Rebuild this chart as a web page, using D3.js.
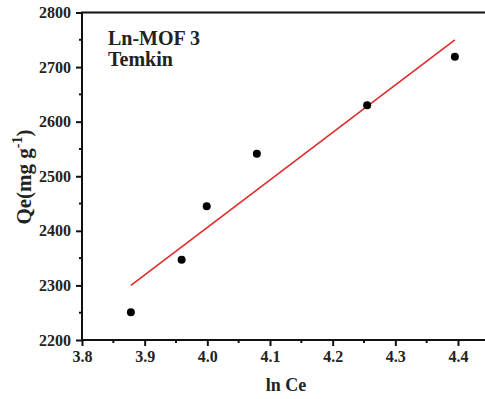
<!DOCTYPE html>
<html><head><meta charset="utf-8">
<script src="https://cdn.jsdelivr.net/npm/d3@7"></script>
<style>body{margin:0;background:#fff}svg{display:block}</style>
</head><body>
<script>
const lnCe = [3.878, 3.959, 3.999, 4.079, 4.255, 4.395];
const qe = [2251, 2347, 2445, 2541, 2630, 2719];
const fitX = [3.878, 4.395];
const fitY = [2300, 2750];
const xTicks = [3.8, 3.9, 4.0, 4.1, 4.2, 4.3, 4.4];
const yTicks = [2200, 2300, 2400, 2500, 2600, 2700, 2800];
const xLabel = "ln Ce";
const annot = ["Ln-MOF 3", "Temkin"];

const FONT = "'Liberation Serif', 'Times New Roman', serif";
const W = 485, H = 399;
const svg = d3.select("body").append("svg").attr("width", W).attr("height", H);
const x = d3.scaleLinear().domain([3.8, 4.4]).range([82, 458]);
const y = d3.scaleLinear().domain([2200, 2800]).range([340, 12.5]);

function styleText(sel, size) {
  return sel.style("font-family", FONT).style("font-weight", "bold").style("font-size", size + "px").style("fill", "#222");
}

// minor ticks
const xMinor = d3.range(3.85, 4.5, 0.1);
const yMinor = d3.range(2250, 2800, 100);
const g = svg.append("g");
g.selectAll(".xm").data(xMinor).join("line")
  .attr("x1", d => x(d)).attr("x2", d => x(d)).attr("y1", 340).attr("y2", 343)
  .attr("stroke", "#111").attr("stroke-width", 2);
g.selectAll(".ym").data(yMinor).join("line")
  .attr("y1", d => y(d)).attr("y2", d => y(d)).attr("x1", 82).attr("x2", 79)
  .attr("stroke", "#111").attr("stroke-width", 2);

const xAxis = svg.append("g").attr("transform", "translate(0,340)")
  .call(d3.axisBottom(x).tickValues(xTicks).tickFormat(d3.format(".1f")).tickSize(6).tickPadding(5));
const yAxis = svg.append("g").attr("transform", "translate(82,0)")
  .call(d3.axisLeft(y).tickValues(yTicks).tickFormat(d3.format("d")).tickSize(6).tickPadding(5));
[xAxis, yAxis].forEach(a => {
  a.attr("font-family", FONT).attr("font-size", 16).attr("font-weight", "bold");
  a.select(".domain").remove();
  a.selectAll("line").attr("stroke", "#111").attr("stroke-width", 2);
  styleText(a.selectAll("text"), 16);
});
// frame
svg.append("line").attr("x1", 82).attr("x2", 495).attr("y1", 340).attr("y2", 340).attr("stroke", "#111").attr("stroke-width", 2);
svg.append("line").attr("x1", 82).attr("x2", 82).attr("y1", 12.5).attr("y2", 341).attr("stroke", "#111").attr("stroke-width", 2);
svg.append("line").attr("x1", 81).attr("x2", 495).attr("y1", y(2800)).attr("y2", y(2800)).attr("stroke", "#111").attr("stroke-width", 2);

// fit line
svg.append("line")
  .attr("x1", x(fitX[0])).attr("y1", y(fitY[0])).attr("x2", x(fitX[1])).attr("y2", y(fitY[1]))
  .attr("stroke", "#e02a2a").attr("stroke-width", 1.6);

// points
svg.selectAll("circle").data(lnCe).join("circle")
  .attr("cx", d => x(d)).attr("cy", (d, i) => y(qe[i])).attr("r", 4).attr("fill", "#000");

// labels
styleText(svg.append("text").attr("x", 286).attr("y", 391).attr("text-anchor", "middle"), 18).text(xLabel);
const yl = styleText(svg.append("text").attr("transform", "translate(31,177) rotate(-90)").attr("text-anchor", "middle"), 21);
yl.append("tspan").text("Qe(mg g");
yl.append("tspan").attr("dy", -9).style("font-size", "14px").text("-1");
yl.append("tspan").attr("dy", 9).text(")");

styleText(svg.selectAll(".ann").data(annot).join("text"), 20)
  .attr("x", 108).attr("y", (d, i) => 45 + i * 21).text(d => d);
</script>
</body></html>
